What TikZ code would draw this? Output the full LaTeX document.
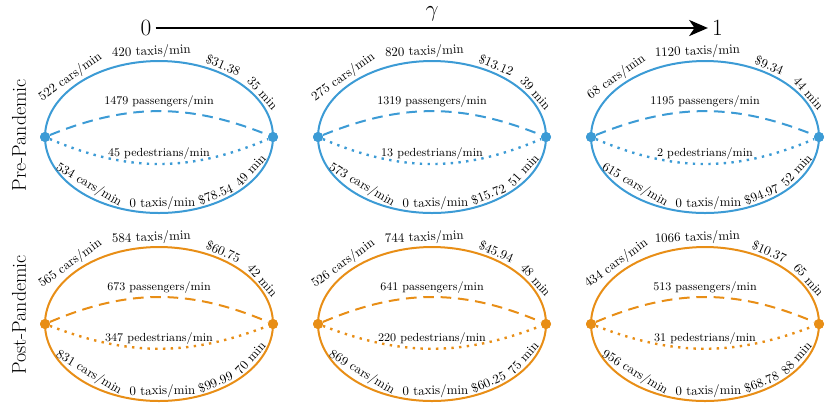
\documentclass[tikz,border=0pt]{standalone}
\usetikzlibrary{arrows.meta}
\definecolor{cblue}{RGB}{60,155,213}
\definecolor{corange}{RGB}{232,142,22}
\tikzset{
  pt/.style={circle, fill=#1, inner sep=0pt, minimum size=7.5pt},
  solidedge/.style={draw=#1, line width=1.5pt},
  dashededge/.style={draw=#1, line width=1.5pt, dash pattern=on 8pt off 5pt},
  dottededge/.style={draw=#1, line width=1.8pt, dash pattern=on 1.8pt off 4pt},
  lab/.style={sloped, above, inner sep=1.5pt, font=\fontsize{9.7}{11}\selectfont, text=black},
  blab/.style={lab, inner sep=2.2pt},
  midlab/.style={above, inner sep=2.3pt, font=\fontsize{8.8}{10}\selectfont, text=black},
  rowlab/.style={rotate=90, font=\fontsize{15}{18}\selectfont},
  axlab/.style={font=\fontsize{17.5}{20}\selectfont, inner sep=3pt}
}
\begin{document}
\begin{tikzpicture}[x=0.75pt,y=0.75pt]
\useasboundingbox (0,0) rectangle (830,-405);

% axis
\node[axlab] (zero) at (146,-28) {0};
\node[axlab] (one) at (717.5,-28) {1};
\node[axlab, inner sep=0pt] (gam) at (432,-14) {$\gamma$};
\draw[line width=2pt, -{Stealth[length=14pt,width=12pt,inset=4pt]}] (zero) -- (one);

% row labels
\node[rowlab] (pre) at (19,-135) {Pre-Pandemic};
\node[rowlab] (post) at (19,-315) {Post-Pandemic};

% ---------- Pre-pandemic, column 1 ----------
\node[pt=cblue] (a1l) at (45,-137) {};
\node[pt=cblue] (a1r) at (273,-137) {};
\path[solidedge=cblue] (a1l.center) arc[start angle=180,end angle=0,x radius=114,y radius=76]
  node[lab,pos=0.24]{522 cars/min} node[lab,pos=0.48]{420 taxis/min}
  node[lab,pos=0.68]{\$31.38} node[lab,pos=0.83]{35 min};
\path[solidedge=cblue] (a1l.center) arc[start angle=180,end angle=360,x radius=114,y radius=76]
  node[blab,pos=0.27]{534 cars/min} node[lab,pos=0.51]{0 taxis/min}
  node[lab,pos=0.675]{\$78.54} node[blab,pos=0.828]{49 min};
\path[dashededge=cblue] (a1l) to[bend left=22] node[midlab,pos=0.5]{1479 passengers/min} (a1r);
\path[dottededge=cblue] (a1l) to[bend right=23] node[midlab,pos=0.5]{45 pedestrians/min} (a1r);
\node[pt=cblue] at (a1l) {};
\node[pt=cblue] at (a1r) {};

% ---------- Pre-pandemic, column 2 ----------
\node[pt=cblue] (a2l) at (318,-137) {};
\node[pt=cblue] (a2r) at (546,-137) {};
\path[solidedge=cblue] (a2l.center) arc[start angle=180,end angle=0,x radius=114,y radius=76]
  node[lab,pos=0.24]{275 cars/min} node[lab,pos=0.48]{820 taxis/min}
  node[lab,pos=0.68]{\$13.12} node[lab,pos=0.83]{39 min};
\path[solidedge=cblue] (a2l.center) arc[start angle=180,end angle=360,x radius=114,y radius=76]
  node[blab,pos=0.27]{573 cars/min} node[lab,pos=0.51]{0 taxis/min}
  node[lab,pos=0.675]{\$15.72} node[blab,pos=0.828]{51 min};
\path[dashededge=cblue] (a2l) to[bend left=22] node[midlab,pos=0.5]{1319 passengers/min} (a2r);
\path[dottededge=cblue] (a2l) to[bend right=23] node[midlab,pos=0.5]{13 pedestrians/min} (a2r);
\node[pt=cblue] at (a2l) {};
\node[pt=cblue] at (a2r) {};

% ---------- Pre-pandemic, column 3 ----------
\node[pt=cblue] (a3l) at (591,-137) {};
\node[pt=cblue] (a3r) at (819,-137) {};
\path[solidedge=cblue] (a3l.center) arc[start angle=180,end angle=0,x radius=114,y radius=76]
  node[lab,pos=0.24]{68 cars/min} node[lab,pos=0.48]{1120 taxis/min}
  node[lab,pos=0.68]{\$9.34} node[lab,pos=0.83]{44 min};
\path[solidedge=cblue] (a3l.center) arc[start angle=180,end angle=360,x radius=114,y radius=76]
  node[blab,pos=0.27]{615 cars/min} node[lab,pos=0.51]{0 taxis/min}
  node[lab,pos=0.675]{\$94.97} node[blab,pos=0.828]{52 min};
\path[dashededge=cblue] (a3l) to[bend left=22] node[midlab,pos=0.5]{1195 passengers/min} (a3r);
\path[dottededge=cblue] (a3l) to[bend right=23] node[midlab,pos=0.5]{2 pedestrians/min} (a3r);
\node[pt=cblue] at (a3l) {};
\node[pt=cblue] at (a3r) {};

% ---------- Post-pandemic, column 1 ----------
\node[pt=corange] (b1l) at (45,-324) {};
\node[pt=corange] (b1r) at (273,-324) {};
\path[solidedge=corange] (b1l.center) arc[start angle=180,end angle=0,x radius=114,y radius=77]
  node[lab,pos=0.24]{565 cars/min} node[lab,pos=0.48]{584 taxis/min}
  node[lab,pos=0.68]{\$60.75} node[lab,pos=0.83]{42 min};
\path[solidedge=corange] (b1l.center) arc[start angle=180,end angle=360,x radius=114,y radius=77]
  node[blab,pos=0.27]{831 cars/min} node[lab,pos=0.51]{0 taxis/min}
  node[lab,pos=0.675]{\$99.99} node[blab,pos=0.828]{70 min};
\path[dashededge=corange] (b1l) to[bend left=23] node[midlab,pos=0.5]{673 passengers/min} (b1r);
\path[dottededge=corange] (b1l) to[bend right=21] node[midlab,pos=0.5]{347 pedestrians/min} (b1r);
\node[pt=corange] at (b1l) {};
\node[pt=corange] at (b1r) {};

% ---------- Post-pandemic, column 2 ----------
\node[pt=corange] (b2l) at (318,-324) {};
\node[pt=corange] (b2r) at (546,-324) {};
\path[solidedge=corange] (b2l.center) arc[start angle=180,end angle=0,x radius=114,y radius=77]
  node[lab,pos=0.24]{526 cars/min} node[lab,pos=0.48]{744 taxis/min}
  node[lab,pos=0.68]{\$45.94} node[lab,pos=0.83]{48 min};
\path[solidedge=corange] (b2l.center) arc[start angle=180,end angle=360,x radius=114,y radius=77]
  node[blab,pos=0.27]{869 cars/min} node[lab,pos=0.51]{0 taxis/min}
  node[lab,pos=0.675]{\$60.25} node[blab,pos=0.828]{75 min};
\path[dashededge=corange] (b2l) to[bend left=23] node[midlab,pos=0.5]{641 passengers/min} (b2r);
\path[dottededge=corange] (b2l) to[bend right=21] node[midlab,pos=0.5]{220 pedestrians/min} (b2r);
\node[pt=corange] at (b2l) {};
\node[pt=corange] at (b2r) {};

% ---------- Post-pandemic, column 3 ----------
\node[pt=corange] (b3l) at (591,-324) {};
\node[pt=corange] (b3r) at (819,-324) {};
\path[solidedge=corange] (b3l.center) arc[start angle=180,end angle=0,x radius=114,y radius=77]
  node[lab,pos=0.24]{434 cars/min} node[lab,pos=0.48]{1066 taxis/min}
  node[lab,pos=0.68]{\$10.37} node[lab,pos=0.83]{65 min};
\path[solidedge=corange] (b3l.center) arc[start angle=180,end angle=360,x radius=114,y radius=77]
  node[blab,pos=0.27]{956 cars/min} node[lab,pos=0.51]{0 taxis/min}
  node[lab,pos=0.675]{\$68.78} node[blab,pos=0.828]{88 min};
\path[dashededge=corange] (b3l) to[bend left=23] node[midlab,pos=0.5]{513 passengers/min} (b3r);
\path[dottededge=corange] (b3l) to[bend right=21] node[midlab,pos=0.5]{31 pedestrians/min} (b3r);
\node[pt=corange] at (b3l) {};
\node[pt=corange] at (b3r) {};
\end{tikzpicture}
\end{document}
